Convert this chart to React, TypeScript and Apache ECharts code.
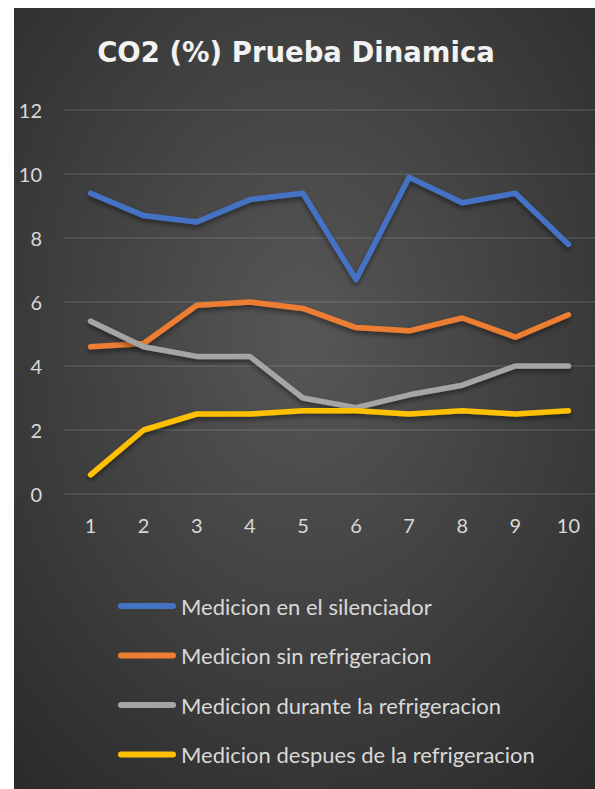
import React, { useEffect, useRef } from "react";
import * as echarts from "echarts";

// Measurement index along the x axis
const categories = ["1", "2", "3", "4", "5", "6", "7", "8", "9", "10"];

// CO2 readings (%) for each measurement point
const silenciador = [9.4, 8.7, 8.5, 9.2, 9.4, 6.7, 9.9, 9.1, 9.4, 7.8];
const sinRefrigeracion = [4.6, 4.7, 5.9, 6.0, 5.8, 5.2, 5.1, 5.5, 4.9, 5.6];
const duranteRefrigeracion = [5.4, 4.6, 4.3, 4.3, 3.0, 2.7, 3.1, 3.4, 4.0, 4.0];
const despuesRefrigeracion = [0.6, 2.0, 2.5, 2.5, 2.6, 2.6, 2.5, 2.6, 2.5, 2.6];

const seriesNames = [
  "Medicion en el silenciador",
  "Medicion sin refrigeracion",
  "Medicion durante la refrigeracion",
  "Medicion despues de la refrigeracion",
];
const seriesColors = ["#4472C4", "#ED7D31", "#A5A5A5", "#FFC000"];
const seriesData = [silenciador, sinRefrigeracion, duranteRefrigeracion, despuesRefrigeracion];

const titleText = "CO2 (%) Prueba Dinamica";

const FONT = "Lato, 'Open Sans', sans-serif";
const TEXT_COLOR = "#d9d9d9";

// capsule-shaped legend marker
const capsule = "path://M3,0 H55 A3,3 0 0 1 55,6 H3 A3,3 0 0 1 3,0 Z";

export default function App() {
  const ref = useRef<HTMLDivElement>(null);

  useEffect(() => {
    if (!ref.current) return;
    const chart = echarts.init(ref.current, undefined, { renderer: "svg" });
    chart.setOption({
      animation: false,
      backgroundColor: {
        type: "radial",
        x: 0.5,
        y: 0.42,
        r: 0.85,
        colorStops: [
          { offset: 0, color: "#575757" },
          { offset: 1, color: "#252525" },
        ],
      },
      graphic: [
        {
          type: "text",
          x: 282,
          y: 44,
          style: {
            text: titleText,
            fill: "#f2f2f2",
            font: "bold 27.5px 'DejaVu Sans', sans-serif",
            align: "center",
            verticalAlign: "middle",
            shadowColor: "rgba(0,0,0,0.6)",
            shadowBlur: 4,
            shadowOffsetY: 2,
          },
        },
      ],
      grid: {
        left: 50,
        top: 102,
        width: 532,
        height: 384,
        containLabel: false,
      },
      xAxis: {
        type: "category",
        data: categories,
        boundaryGap: true,
        axisLine: { show: false },
        axisTick: { show: false },
        axisLabel: {
          color: TEXT_COLOR,
          fontFamily: FONT,
          fontSize: 20,
          margin: 21,
        },
      },
      yAxis: {
        type: "value",
        min: 0,
        max: 12,
        interval: 2,
        axisLine: { show: false },
        axisTick: { show: false },
        axisLabel: {
          color: TEXT_COLOR,
          fontFamily: FONT,
          fontSize: 20,
          margin: 22,
        },
        splitLine: {
          lineStyle: { color: "rgba(255,255,255,0.12)", width: 1.5 },
        },
      },
      legend: {
        orient: "vertical",
        left: 99,
        top: 582,
        itemWidth: 58,
        itemHeight: 7,
        itemGap: 27.5,
        icon: capsule,
        textStyle: {
          color: TEXT_COLOR,
          fontFamily: FONT,
          fontSize: 22,
        },
        data: seriesNames,
      },
      series: seriesNames.map((name, i) => ({
        name,
        type: "line",
        data: seriesData[i],
        symbol: "none",
        color: seriesColors[i],
        lineStyle: {
          width: 5.5,
          color: seriesColors[i],
          cap: "round",
          join: "round",
          shadowColor: "rgba(0,0,0,0.45)",
          shadowBlur: 5,
          shadowOffsetY: 3,
        },
      })),
    });
    return () => chart.dispose();
  }, []);

  return (
    <div
      ref={ref}
      style={{ position: "absolute", left: 14, top: 8, width: 581, height: 781 }}
    />
  );
}
